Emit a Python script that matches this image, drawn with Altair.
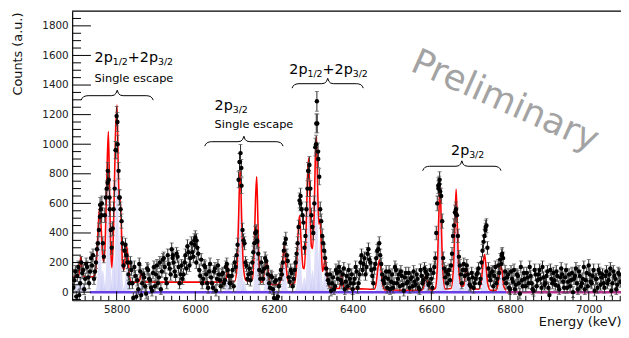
import altair as alt
import pandas as pd

# ---------------- data ----------------
bin_first = 5690          # keV, first bin of series A
bin_first_b = 5692.5      # keV, first bin of series B (interleaved)
bin_step = 5              # keV
counts = [
    30, 140, 110, -20, 200, 150, 90, 170, 60, 230,      # 5690-5735
    250, 140, 290, 420, 560, 330, 520, 700, 760, 420,   # 5740-5785
    430, 700, 1190, 820, 560, 330, 280, 250, 120, 200,  # 5790-5835
    60, 170, -30, 20, 140, 60, 100, -10, 150, 80,       # 5840-5885
    10, 170, 120, 60, 200, 140, 230, 90, 250, 160,      # 5890-5935
    290, 200, 110, 240, 60, 180, 120, 250, 310, 180,    # 5940-5985
    330, 240, 370, 300, 150, 220, 90, 170, 60, 140,     # 5990-6035
    100, 30, 160, 90, 120, 40, 130, 80, 190, 110,       # 6040-6085
    60, 150, 200, 250, 760, 940, 420, 330, 180, 120,    # 6090-6135
    80, 200, 330, 410, 260, 90, 140, 160, 210, 120,     # 6140-6185
    30, 100, -40, 80, -30, 90, 120, 280, 360, 210,      # 6190-6235
    70, 130, 90, 200, 330, 620, 560, 470, 380, 700,     # 6240-6285
    860, 520, 400, 980, 1140, 780, 480, 330, 230, 120,  # 6290-6335
    60, 10, 100, 40, 130, 170, 80, 120, 20, 110,        # 6340-6385
    150, 60, 20, 90, 140, 60, 200, 150, 230, 170,       # 6390-6435
    290, 200, 110, 160, 230, 290, 250, 120, 60, 140,    # 6440-6485
    90, 20, 120, 60, 150, 90, 40, 110, 10, 130,         # 6490-6535
    70, 30, 100, 140, 50, 90, 20, 110, 80, 140,         # 6540-6585
    120, 60, 90, 130, 230, 600, 730, 650, 230, 100,     # 6590-6635
    60, 150, 180, 380, 540, 520, 240, 120, 150, 110,    # 6640-6685
    180, 90, 40, 100, 60, 120, 160, 90, 280, 380,       # 6690-6735
    450, 160, 80, 140, 110, 60, 180, 220, 260, 90,      # 6740-6785
    60, 120, 20, 90, 150, 50, 110, -10, 80, 130,        # 6790-6835
    40, 100, 170, 60, 10, 120, 80, 150, 30, 100,        # 6840-6885
    60, 140, -20, 90, 130, 50, 110, 20, 160, 70,        # 6890-6935
    100, 30, 120, 80, 0, 110, 60, 140, 40, 90,          # 6940-6985
    20, 130, 180, 70, 110, 10, 90, 150, 50, 120,        # 6990-7035
    30, 140, 80, 160, 60, 110, 20, 130, 70,             # 7040-7080
]
counts_b = [
    80, -30, 170, 60, 130, 20, 190, 100, 140, 180,      # 5692.5-5737.5
    90, 200, 330, 510, 600, 240, 640, 820, 560, 300,    # 5742.5-5787.5
    560, 960, 1000, 640, 480, 180, 320, 200, 60, 150,   # 5792.5-5837.5
    -40, 110, 80, 190, -20, 120, 40, 160, 90, 30,       # 5842.5-5887.5
    130, 40, 180, 100, 20, 220, 170, 60, 190, 120,      # 5892.5-5937.5
    230, 140, 260, 170, 120, 90, 200, 160, 270, 230,    # 5942.5-5987.5
    270, 350, 200, 260, 110, 60, 180, 120, 30, 190,     # 5992.5-6037.5
    60, 140, 10, 180, 80, 120, 60, 170, 150, 60,        # 6042.5-6087.5
    110, 40, 170, 320, 880, 720, 350, 200, 90, 160,     # 6092.5-6137.5
    130, 270, 400, 340, 150, 200, 90, 230, 170, 60,     # 6142.5-6187.5
    110, 20, 70, -50, 40, 150, 200, 330, 250, 100,      # 6192.5-6237.5
    150, 40, 150, 260, 440, 650, 520, 300, 560, 820,    # 6242.5-6287.5
    700, 440, 600, 1140, 900, 560, 380, 280, 160, 80,   # 6292.5-6337.5
    120, 60, 20, 150, 90, 140, 60, 160, 70, 40,         # 6342.5-6387.5
    90, 120, 60, 170, 30, 120, 250, 190, 120, 260,      # 6392.5-6437.5
    220, 150, 60, 190, 280, 330, 190, 80, 100, 30,      # 6442.5-6487.5
    140, 70, 30, 170, 60, 120, 140, 50, 100, 60,        # 6492.5-6537.5
    130, 90, 40, 70, 120, 30, 150, 60, 160, 100,        # 6542.5-6587.5
    50, 150, 30, 170, 400, 720, 680, 480, 160, 140,     # 6592.5-6637.5
    120, 80, 260, 450, 560, 380, 180, 60, 190, 150,     # 6642.5-6687.5
    120, 50, 130, 30, 90, 130, 60, 200, 340, 420,       # 6692.5-6737.5
    300, 110, 130, 40, 170, 90, 130, 190, 230, 140,     # 6742.5-6787.5
    100, 30, 140, 70, 20, 120, 60, 170, 40, 90,         # 6792.5-6837.5
    130, 60, 110, 20, 150, 40, 120, 90, 170, 50,        # 6842.5-6887.5
    110, 30, 150, 60, 80, 140, 40, 100, 120, 30,        # 6892.5-6937.5
    150, 70, 40, 130, 90, 160, 20, 110, 60, 170,        # 6942.5-6987.5
    80, 40, 120, 60, 150, 90, 30, 130, 100, 60,         # 6992.5-7037.5
    110, 60, 120, 10, 140, 90, 50, 120,                 # 7042.5-7077.5
]
extra_energy = [5758, 5762, 5777, 5782, 5798, 5802, 5807, 5943, 5998, 6003,
                6113, 6117, 6153, 6157, 6267, 6287, 6307, 6309, 6312, 6618,
                6621, 6662, 6738, 6779]
extra_counts = [590, 520, 740, 640, 960, 1150, 640, 250, 320, 350,
                880, 840, 400, 350, 600, 820, 1000, 1290, 950, 700,
                760, 530, 440, 250]

fit_energy = [5690, 5700, 5704, 5707, 5709, 5711, 5714, 5720, 5740,
              5746, 5750, 5754, 5757, 5760, 5764, 5767, 5771, 5775, 5779, 5782, 5785, 5788,
              5792, 5797, 5801, 5804, 5807, 5809, 5812, 5815, 5819, 5823, 5826, 5829, 5833,
              5838, 5855, 5859, 5862, 5865, 5869, 5875,
              6075, 6079, 6082, 6085, 6090, 6100, 6106, 6110, 6114, 6118, 6122, 6128, 6133,
              6145, 6150, 6153, 6156, 6159, 6162, 6167, 6172, 6177, 6181, 6185, 6190, 6195,
              6210, 6218, 6222, 6226, 6230, 6235, 6242, 6252, 6258, 6262, 6265, 6269, 6274,
              6277, 6281, 6285, 6288, 6291, 6295, 6298, 6302, 6305, 6308, 6311, 6314, 6317,
              6320, 6323, 6326, 6330, 6334, 6340, 6350, 6366, 6369, 6372, 6375, 6380, 6420,
              6455, 6460, 6464, 6468, 6472, 6476, 6482, 6575, 6580, 6584, 6587, 6590, 6594,
              6600, 6610, 6615, 6619, 6622, 6625, 6629, 6635, 6650, 6656, 6660, 6663, 6666,
              6670, 6676, 6682, 6686, 6690, 6694, 6700, 6720, 6727, 6731, 6735, 6739, 6743,
              6750, 6765, 6770, 6774, 6777, 6780, 6784, 6790]
fit_counts = [105, 105, 118, 190, 240, 190, 118, 102, 104,
              130, 260, 480, 573, 470, 260, 206, 340, 760, 1085, 700, 300, 165,
              420, 1060, 1265, 860, 610, 629, 450, 180, 150, 270, 307, 230, 100,
              68, 68, 85, 125, 110, 72, 68,
              68, 105, 173, 105, 72, 72, 170, 500, 840, 480, 180, 82, 74,
              85, 320, 620, 780, 500, 200, 66, 80, 160, 218, 150, 62, 51,
              52, 85, 210, 318, 200, 85, 52, 62, 210, 430, 518, 340, 165,
              158, 360, 760, 906, 640, 310, 295, 520, 900, 1051, 700, 460, 495,
              340, 140, 160, 229, 140, 38, 26, 25, 65, 129, 65, 24, 22,
              20, 65, 160, 218, 150, 55, 15, 13, 32, 95, 118, 90, 30,
              13, 25, 160, 520, 740, 490, 150, 22, 25, 160, 470, 695, 440,
              140, 40, 42, 115, 162, 100, 25, 20, 75, 185, 255, 175, 60,
              13, 13, 65, 150, 173, 140, 40, 12]

comp_center = [5700, 5709, 5718, 5757, 5765, 5779, 5792, 5801, 5809, 5826,
               5863, 6082, 6114, 6124, 6156, 6181, 6226, 6265, 6277, 6288,
               6298, 6308, 6317, 6330, 6372, 6468, 6587, 6622, 6634, 6663,
               6676, 6690, 6735, 6777]
comp_height = [70, 120, 60, 400, 150, 700, 250, 900, 420, 180,
               50, 90, 600, 80, 450, 140, 220, 400, 100, 650,
               150, 700, 350, 170, 90, 190, 90, 620, 100, 500,
               60, 130, 220, 150]

zero_start = [5732, 6790]
zero_end = [6790, 7082]

x_major = [5800, 6000, 6200, 6400, 6600, 6800, 7000]
y_major = [0, 200, 400, 600, 800, 1000, 1200, 1400, 1600, 1800]

# ---------------- layout constants ----------------
X_MIN, X_MAX = 5687, 7082
Y_MIN, Y_MAX = -55, 1900
PLOT_W, PLOT_H = 556, 293
KEV_PX = (X_MAX - X_MIN) / PLOT_W
CNT_PX = (Y_MAX - Y_MIN) / PLOT_H
FONT = "DejaVu Sans"

xs = alt.Scale(domain=[X_MIN, X_MAX], nice=False, zero=False)
ys = alt.Scale(domain=[Y_MIN, Y_MAX], nice=False, zero=False)

x_axis = alt.Axis(values=x_major, format="d", ticks=False, grid=False, domainColor="black",
                  domainWidth=1.2, labelFont=FONT, labelFontSize=10.5, labelColor="#222",
                  labelPadding=4, title="Energy (keV)", titleFont=FONT, titleFontSize=13,
                  titleFontWeight="normal", titleColor="#111", titleAlign="right",
                  titleBaseline="alphabetic", titleX=PLOT_W, titleY=26)
y_axis = alt.Axis(values=y_major, format="d", ticks=False, grid=False, domainColor="black",
                  domainWidth=1.2, labelFont=FONT, labelFontSize=10.5, labelColor="#222",
                  labelPadding=4, title="Counts (a.u.)", titleFont=FONT, titleFontSize=13,
                  titleFontWeight="normal", titleColor="#111", titleAngle=270,
                  titleAlign="right", titleBaseline="middle", titleX=-55, titleY=1)


def X(field):
    return alt.X(field, scale=xs, axis=x_axis)


def Y(field):
    return alt.Y(field, scale=ys, axis=y_axis)


# ---------------- tables ----------------
energies = ([bin_first + bin_step * i for i in range(len(counts))]
            + [bin_first_b + bin_step * i for i in range(len(counts_b))]
            + extra_energy)
vals = counts + counts_b + extra_counts
pts = pd.DataFrame({"e": energies, "c": vals})
pts["err"] = (36 + 0.024 * pts["c"].abs()).round(1)
pts["lo"] = pts["c"] - pts["err"]
pts["hi"] = pts["c"] + pts["err"]

fit = pd.DataFrame({"e": fit_energy, "c": fit_counts})

shape_dx = [-14, -9, -5, -2.5, 0, 2.5, 5, 9, 14]
shape_fr = [0, 0.06, 0.35, 0.78, 1, 0.78, 0.35, 0.06, 0]
comp_rows = []
for k, (cc, hh) in enumerate(zip(comp_center, comp_height)):
    for dx, fr in zip(shape_dx, shape_fr):
        comp_rows.append({"comp": k, "e": cc + dx, "c": hh * fr})
comps = pd.DataFrame(comp_rows)

zero = pd.DataFrame({"x": zero_start, "x2": zero_end, "y": [0, 0],
                     "col": ["#6a40e6", "#b4308e"]})

y_minor = [v for v in range(-50, 1900, 50) if v not in y_major]
x_minor = [v for v in range(5700, 7081, 20) if v not in x_major]

# braces: left, right (keV), level (counts)
brace_left = [5710, 6024, 6246, 6578]
brace_right = [5893, 6223, 6427, 6777]
brace_level = [1328, 1017, 1409, 851]
brace_rows = []
for b, (l, r, lev) in enumerate(zip(brace_left, brace_right, brace_level)):
    W = (r - l) / KEV_PX
    m = W / 2
    prof = [(0, 4.5), (1, 2.5), (2.5, 1.0), (5, 0.2), (7, 0),
            (m - 6, 0), (m - 3, -0.6), (m - 1.2, -2.4), (m, -5.5),
            (m + 1.2, -2.4), (m + 3, -0.6), (m + 6, 0),
            (W - 7, 0), (W - 5, 0.2), (W - 2.5, 1.0), (W - 1, 2.5), (W, 4.5)]
    for i, (dx, dy) in enumerate(prof):
        brace_rows.append({"b": b, "i": i, "e": l + dx * KEV_PX, "c": lev - dy * CNT_PX})
braces = pd.DataFrame(brace_rows)

labels = pd.DataFrame([
    {"e": 5744, "c": 1555, "t": "2p", "s": 14.5},
    {"e": 5790, "c": 1535, "t": "1/2", "s": 9.5},
    {"e": 5828.5, "c": 1555, "t": "+2p", "s": 14.5},
    {"e": 5905, "c": 1535, "t": "3/2", "s": 9.5},
    {"e": 5744, "c": 1422, "t": "Single escape", "s": 11.5},
    {"e": 6049, "c": 1229, "t": "2p", "s": 14.5},
    {"e": 6095, "c": 1209, "t": "3/2", "s": 9.5},
    {"e": 6049, "c": 1111, "t": "Single escape", "s": 11.5},
    {"e": 6239, "c": 1477, "t": "2p", "s": 14.5},
    {"e": 6285, "c": 1457, "t": "1/2", "s": 9.5},
    {"e": 6323.5, "c": 1477, "t": "+2p", "s": 14.5},
    {"e": 6400, "c": 1457, "t": "3/2", "s": 9.5},
    {"e": 6650, "c": 929, "t": "2p", "s": 14.5},
    {"e": 6696, "c": 909, "t": "3/2", "s": 9.5},
])
watermark = pd.DataFrame({"e": [6776], "c": [1225], "t": ["Preliminary"]})

# ---------------- layers ----------------
comp_layer = alt.Chart(comps).mark_area(color="#cdcdf6", opacity=0.65, clip=True,
                                        interpolate="monotone").encode(
    x=X("e:Q"), y=Y("c:Q"), y2=alt.datum(0), detail="comp:N")

zero_layer = alt.Chart(zero).mark_rule(strokeWidth=2.5).encode(
    x=X("x:Q"), x2="x2:Q", y=Y("y:Q"), color=alt.Color("col:N", scale=None))

fit_layer = alt.Chart(fit).mark_line(color="#ff0000", strokeWidth=1.6, clip=True,
                                     interpolate="monotone").encode(
    x=X("e:Q"), y=Y("c:Q"))

err_layer = alt.Chart(pts).mark_rule(color="#2a2a2a", strokeWidth=1, clip=True).encode(
    x=X("e:Q"), y=Y("lo:Q"), y2="hi:Q")
cap_hi = alt.Chart(pts).mark_tick(color="#555", orient="horizontal", size=4,
                                  thickness=1, clip=True).encode(x=X("e:Q"), y=Y("hi:Q"))
cap_lo = alt.Chart(pts).mark_tick(color="#555", orient="horizontal", size=4,
                                  thickness=1, clip=True).encode(x=X("e:Q"), y=Y("lo:Q"))

pt_layer = alt.Chart(pts).mark_circle(color="black", size=20, opacity=1, clip=True).encode(
    x=X("e:Q"), y=Y("c:Q"))

ymaj_layer = alt.Chart(pd.DataFrame({"v": y_major})).mark_rule(color="black", strokeWidth=1).encode(
    y=Y("v:Q"), x=alt.value(0), x2=alt.value(19))
ymin_layer = alt.Chart(pd.DataFrame({"v": y_minor})).mark_rule(color="black", strokeWidth=1).encode(
    y=Y("v:Q"), x=alt.value(0), x2=alt.value(9))
xmaj_layer = alt.Chart(pd.DataFrame({"v": x_major})).mark_rule(color="black", strokeWidth=1).encode(
    x=X("v:Q"), y=alt.value(PLOT_H), y2=alt.value(PLOT_H - 9))
xmin_layer = alt.Chart(pd.DataFrame({"v": x_minor})).mark_rule(color="black", strokeWidth=1).encode(
    x=X("v:Q"), y=alt.value(PLOT_H), y2=alt.value(PLOT_H - 4.5))
top_layer = alt.Chart(pd.DataFrame({"v": [0]})).mark_rule(color="black", strokeWidth=1.3).encode(
    y=alt.value(0), x=alt.value(0), x2=alt.value(PLOT_W))

brace_layer = alt.Chart(braces).mark_line(color="black", strokeWidth=1).encode(
    x=X("e:Q"), y=Y("c:Q"), detail="b:N", order="i:Q")
label_layer = alt.Chart(labels).mark_text(align="left", baseline="alphabetic",
                                          font=FONT, color="black").encode(
    x=X("e:Q"), y=Y("c:Q"), text="t:N", size=alt.Size("s:Q", scale=None))
wm_layer = alt.Chart(watermark).mark_text(align="center", baseline="alphabetic", angle=24,
                                          font=FONT, fontSize=36, color="#a3a3a3").encode(
    x=X("e:Q"), y=Y("c:Q"), text="t:N")

chart = alt.layer(
    comp_layer, zero_layer, fit_layer, err_layer, cap_hi, cap_lo, pt_layer,
    ymaj_layer, ymin_layer, xmaj_layer, xmin_layer, top_layer,
    brace_layer, label_layer, wm_layer,
).properties(
    width=PLOT_W, height=PLOT_H,
    autosize=alt.AutoSizeParams(type="none"),
    padding={"left": 65, "top": 1, "right": 0, "bottom": 28},
    background="white",
).configure_view(stroke=None)

chart.save("out.html", embed_options={"renderer": "svg", "actions": False})
